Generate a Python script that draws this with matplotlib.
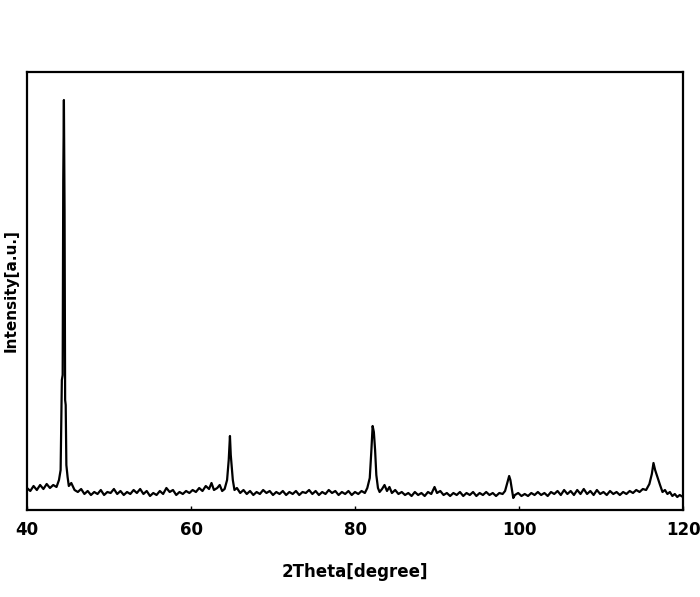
import matplotlib
matplotlib.use("Agg")
import matplotlib.pyplot as plt

# XRD pattern (intensity in arbitrary units)
two_theta = [
    40.0, 40.4, 40.8, 41.2, 41.6, 42.0, 42.4, 42.8, 43.2, 43.6, 43.9, 44.1,
    44.25, 44.35, 44.42, 44.5, 44.58, 44.65, 44.72, 44.8, 44.95, 45.1, 45.4, 45.8,
    46.2, 46.6, 47.0, 47.4, 47.8, 48.2, 48.6, 49.0, 49.4, 49.8, 50.2, 50.6,
    51.0, 51.4, 51.8, 52.2, 52.6, 53.0, 53.4, 53.8, 54.2, 54.6, 55.0, 55.4,
    55.8, 56.2, 56.6, 57.0, 57.4, 57.8, 58.2, 58.6, 59.0, 59.4, 59.8, 60.2,
    60.6, 61.0, 61.4, 61.8, 62.2, 62.5, 62.8, 63.2, 63.5, 63.8, 64.1, 64.4,
    64.6, 64.75, 64.85, 64.95, 65.1, 65.3, 65.6, 66.0, 66.4, 66.8, 67.2, 67.6,
    68.0, 68.4, 68.8, 69.2, 69.6, 70.0, 70.4, 70.8, 71.2, 71.6, 72.0, 72.4,
    72.8, 73.2, 73.6, 74.0, 74.4, 74.8, 75.2, 75.6, 76.0, 76.4, 76.8, 77.2,
    77.6, 78.0, 78.4, 78.8, 79.2, 79.6, 80.0, 80.4, 80.8, 81.2, 81.5, 81.8,
    82.0, 82.15, 82.3, 82.45, 82.6, 82.8, 83.0, 83.3, 83.6, 83.9, 84.2, 84.5,
    84.9, 85.3, 85.7, 86.1, 86.5, 86.9, 87.3, 87.7, 88.1, 88.5, 88.9, 89.3,
    89.7, 90.0, 90.4, 90.8, 91.2, 91.6, 92.0, 92.4, 92.8, 93.2, 93.6, 94.0,
    94.4, 94.8, 95.2, 95.6, 96.0, 96.4, 96.8, 97.2, 97.6, 98.0, 98.3, 98.6,
    98.8, 98.95, 99.1, 99.3, 99.5, 99.9, 100.3, 100.7, 101.1, 101.5, 101.9, 102.3,
    102.7, 103.1, 103.5, 103.9, 104.3, 104.7, 105.1, 105.5, 105.9, 106.3, 106.7, 107.1,
    107.5, 107.9, 108.3, 108.7, 109.1, 109.5, 109.9, 110.3, 110.7, 111.1, 111.5, 111.9,
    112.3, 112.7, 113.1, 113.5, 113.9, 114.3, 114.7, 115.1, 115.5, 115.9, 116.2, 116.4,
    116.6, 116.8, 117.0, 117.2, 117.5, 117.8, 118.1, 118.4, 118.7, 119.0, 119.3, 119.6,
    120.0,
]
intensity = [
    22, 19, 24, 20, 25, 21, 26, 22, 25, 23, 30, 40,
    130, 135, 330, 410, 300, 110, 105, 45, 33, 24, 27, 20,
    18, 21, 16, 19, 15, 18, 16, 20, 15, 18, 17, 21,
    16, 19, 15, 18, 16, 20, 17, 21, 16, 19, 14, 17,
    15, 19, 16, 22, 18, 20, 15, 18, 16, 19, 17, 20,
    18, 22, 19, 24, 21, 27, 20, 22, 25, 19, 21, 30,
    50, 74, 55, 45, 30, 20, 22, 17, 20, 16, 19, 15,
    18, 16, 20, 17, 19, 15, 18, 16, 19, 15, 18, 16,
    19, 15, 18, 17, 20, 16, 19, 15, 18, 16, 20, 17,
    19, 15, 18, 16, 19, 15, 18, 16, 19, 17, 22, 32,
    60, 84, 78, 60, 35, 22, 18, 21, 25, 19, 23, 17,
    20, 16, 18, 15, 17, 14, 18, 15, 17, 14, 18, 16,
    23, 17, 19, 15, 17, 14, 17, 15, 18, 14, 17, 15,
    18, 14, 17, 15, 18, 15, 17, 14, 17, 16, 19, 28,
    34, 30, 22, 12, 15, 17, 14, 16, 14, 17, 15, 18,
    15, 17, 14, 18, 16, 19, 15, 20, 16, 19, 15, 20,
    16, 21, 16, 19, 15, 20, 16, 18, 15, 19, 16, 18,
    15, 18, 16, 19, 17, 20, 18, 21, 20, 26, 36, 47,
    40, 35, 30, 25, 18, 20, 16, 18, 14, 16, 13, 15,
    13,
]
x_ticks = [40, 60, 80, 100, 120]


def main():
    fig = plt.figure(figsize=(7.0, 5.97), dpi=100)
    ax = fig.add_axes([27 / 700, 87 / 597, 656 / 700, 438 / 597])

    ax.plot(two_theta, intensity, color='black', linewidth=1.6)

    ax.set_xlim(40, 120)
    ax.set_ylim(0, 438)
    ax.set_xticks(x_ticks)
    ax.set_yticks([])
    ax.tick_params(axis='x', direction='in', length=3, width=1,
                   labelsize=12, pad=8)
    for lbl in ax.get_xticklabels():
        lbl.set_fontweight('bold')
    for sp in ax.spines.values():
        sp.set_linewidth(1.6)

    ax.set_xlabel('2Theta[degree]', fontsize=12, fontweight='bold', labelpad=17)
    ax.set_ylabel('Intensity[a.u.]', fontsize=11, fontweight='bold', labelpad=6)

    fig.savefig('out.png', dpi=100)


if __name__ == "__main__":
    main()
